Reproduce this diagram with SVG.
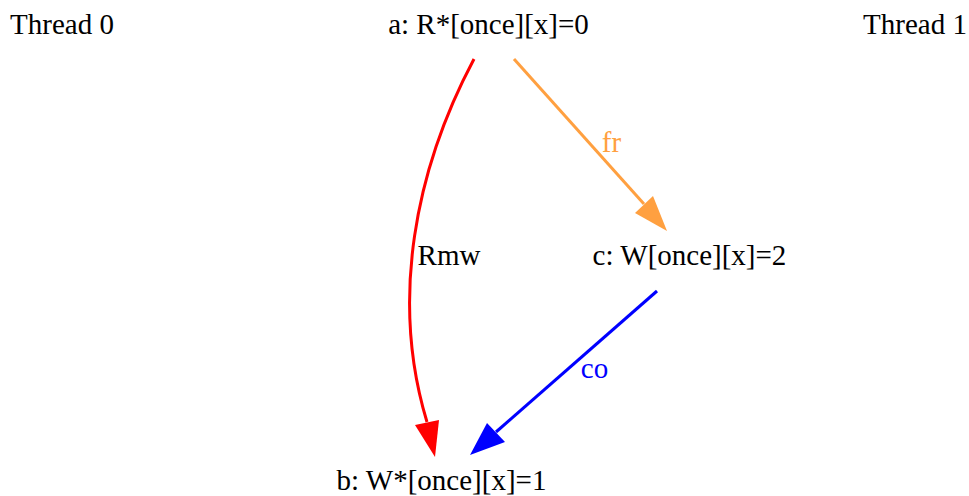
<svg xmlns="http://www.w3.org/2000/svg" width="969" height="496" viewBox="0 0 969 496">
<style>
text{font-family:"Liberation Serif","Times New Roman",serif;font-size:29px;text-anchor:middle;fill:#000}
.e{fill:none;stroke-width:3}
</style>
<rect width="969" height="496" fill="#fff"/>
<g id="thread0"><text x="62" y="34">Thread 0</text></g>
<g id="thread1"><text x="915" y="34">Thread 1</text></g>
<g id="a"><text x="488.5" y="34">a: R*[once][x]=0</text></g>
<g id="c"><text x="689.5" y="265">c: W[once][x]=2</text></g>
<g id="b"><text x="441.5" y="490">b: W*[once][x]=1</text></g>
<g id="edges">
<path class="e" stroke="#ff0000" d="M474,59 C415,170 390,300 427,422"/>
<polygon fill="#ff0000" points="415,425 439,420 435,457"/>
<text x="449" y="265">Rmw</text>
<path class="e" stroke="#ffa040" d="M514,59 L644,204"/>
<polygon fill="#ffa040" points="635,213 653,196 667,231"/>
<text x="611.5" y="152" style="fill:#ffa040">fr</text>
<path class="e" stroke="#0000ff" d="M657,291 L496,432"/>
<polygon fill="#0000ff" points="487,423 505,442 470,455"/>
<text x="594.5" y="378" style="fill:#0000ff">co</text>
</g>
</svg>
